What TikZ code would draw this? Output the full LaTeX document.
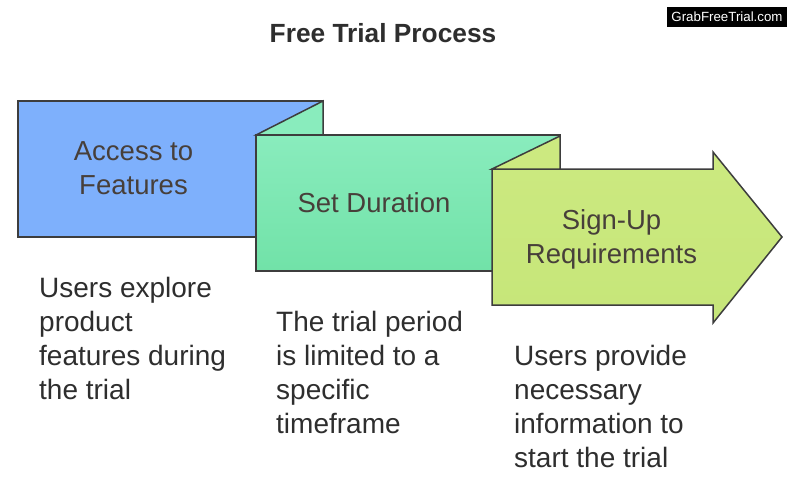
\documentclass[tikz,border=0pt]{standalone}
\usepackage{fontspec}
\setmainfont{Liberation Sans}
\begin{document}
\begin{tikzpicture}[x=1pt,y=-1pt,
  shapeline/.style={draw=edgegray, line width=1.5pt, line join=miter},
  boxlabel/.style={inner sep=0pt, anchor=north, align=center, text=labelbrown,
    font=\fontsize{27.5}{34}\selectfont},
  bodytext/.style={inner sep=0pt, anchor=north west, align=left, text=bodygray,
    font=\fontsize{28}{34}\selectfont}]
\definecolor{edgegray}{HTML}{3D3D3D}
\definecolor{labelbrown}{HTML}{473F3A}
\definecolor{bodygray}{HTML}{2E2E2E}
\definecolor{blueA}{HTML}{7EB0FC}
\definecolor{greenTop}{HTML}{89ECBD}
\definecolor{greenBot}{HTML}{71E2A8}
\definecolor{limeTop}{HTML}{CCE980}
\definecolor{limeBot}{HTML}{C6E679}
\useasboundingbox[fill=white] (0,0) rectangle (800,492);

% Title and watermark
\node[inner sep=0pt, anchor=base, font=\bfseries\fontsize{26.3}{30}\selectfont, text=bodygray] (title) at (383,42.7) {Free Trial Process};
\node[fill=black, text=white, inner sep=0pt, minimum width=120pt, minimum height=20pt,
  font=\fontsize{13.3}{15}\selectfont] (mark) at (727,17) {GrabFreeTrial.com};

% Box 1
\path[shapeline, fill=blueA] (18,101) rectangle (323,237);
% Box 2 with flap
\path[shapeline, top color=greenTop, bottom color=greenBot] (256,135) rectangle (560,271);
\path[shapeline, fill=greenTop] (256,135) -- (323,101) -- (323,135) -- cycle;
% Box 3 arrow with flap
\path[shapeline, top color=limeTop, bottom color=limeBot]
  (492,305) -- (492,169) -- (713,169) -- (713,152) -- (782,237) -- (713,323) -- (713,305) -- cycle;
\path[shapeline, fill=limeTop] (492,169) -- (560,136) -- (560,169) -- cycle;

% Labels
\node[boxlabel] (lab1) at (133.5,141.3) {Access to\\Features};
\node[boxlabel] (lab2) at (374,192) {Set Duration};
\node[boxlabel] (lab3) at (611.5,209.3) {Sign-Up\\Requirements};

% Descriptions
\node[bodytext] (desc1) at (39,277.3) {Users explore\\product\\features during\\the trial};
\node[bodytext] (desc2) at (276,311.3) {The trial period\\is limited to a\\specific\\timeframe};
\node[bodytext] (desc3) at (514,345.3) {Users provide\\necessary\\information to\\start the trial};
\end{tikzpicture}
\end{document}
